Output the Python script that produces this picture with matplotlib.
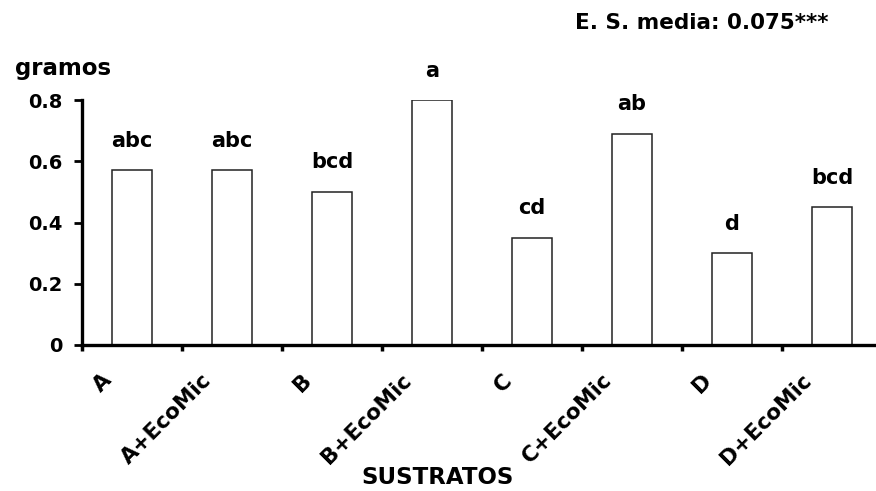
import numpy as np
import matplotlib.pyplot as plt

plt.rcParams['font.family'] = ['DejaVu Sans']
plt.rcParams['font.weight'] = 'bold'

sustratos = ['A', 'A+EcoMic', 'B', 'B+EcoMic', 'C', 'C+EcoMic', 'D', 'D+EcoMic']
gramos = [0.57, 0.57, 0.50, 0.80, 0.35, 0.69, 0.30, 0.45]
letras = ['abc', 'abc', 'bcd', 'a', 'cd', 'ab', 'd', 'bcd']

fig = plt.figure(figsize=(8.76, 4.91), dpi=100, facecolor='white')
ax = fig.add_axes([82/876, 1 - 345/491, 800/876, 245/491])

x = np.arange(len(sustratos))
ax.bar(x, gramos, width=0.4, color='white', edgecolor='#222222', linewidth=1.1)

for xi, v, t in zip(x, gramos, letras):
    ax.annotate(t, xy=(xi, v), xytext=(0, 14), textcoords='offset points',
                ha='center', va='bottom', fontsize=15, fontweight='bold')

ax.set_xlim(-0.5, 7.5)
ax.set_ylim(0, 0.8)
ax.set_yticks([0, 0.2, 0.4, 0.6, 0.8])
ax.set_yticklabels(['0', '0.2', '0.4', '0.6', '0.8'], fontsize=14, fontweight='bold')
ax.set_xticks(np.arange(-0.5, 8, 1.0))
ax.set_xticklabels([])

for xi, name in zip(x, sustratos):
    ax.annotate(name, xy=(xi, 0), xycoords='data', xytext=(-22, -18),
                textcoords='offset points', rotation=45, rotation_mode='anchor',
                ha='right', va='top', fontsize=15.5, fontweight='bold',
                annotation_clip=False)

for s in ['top', 'right']:
    ax.spines[s].set_visible(False)
for s in ['left', 'bottom']:
    ax.spines[s].set_linewidth(2.4)
ax.tick_params(axis='y', direction='out', length=6, width=2, pad=8)
ax.tick_params(axis='x', direction='out', length=4, width=2.5)

fig.text(15/876, 1 - 68/491, 'gramos', fontsize=16.5, fontweight='bold', va='center')
fig.text(575/876, 1 - 23/491, 'E. S. media: 0.075***', fontsize=15.5, fontweight='bold', va='center')
fig.text(438/876, 1 - 477/491, 'SUSTRATOS', fontsize=16.5, fontweight='bold', ha='center', va='center')

fig.savefig('out.png', dpi=100, facecolor='white')
